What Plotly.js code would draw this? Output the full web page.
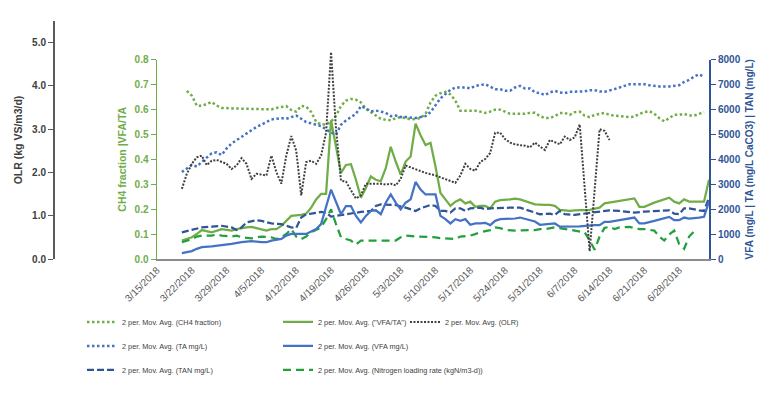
<!DOCTYPE html>
<html>
<head>
<meta charset="utf-8">
<script src="https://cdn.plot.ly/plotly-3.0.1.min.js"></script>
<style>html,body{margin:0;padding:0;background:#fff;}#chart{width:768px;height:396px;}</style>
</head>
<body>
<div id="chart"></div>
<script>
// ---- data ----
const ch4Dates = ['2018-03-21','2018-03-22','2018-03-23','2018-03-24','2018-03-25','2018-03-26','2018-03-27','2018-03-28','2018-03-30','2018-04-02','2018-04-05','2018-04-07','2018-04-08','2018-04-09','2018-04-10','2018-04-11','2018-04-12','2018-04-13','2018-04-14','2018-04-15','2018-04-16','2018-04-17','2018-04-18','2018-04-19','2018-04-20','2018-04-21','2018-04-22','2018-04-23','2018-04-24','2018-04-25','2018-04-26','2018-04-27','2018-04-28','2018-04-29','2018-04-30','2018-05-01','2018-05-02','2018-05-03','2018-05-04','2018-05-05','2018-05-06','2018-05-07','2018-05-08','2018-05-09','2018-05-10','2018-05-11','2018-05-12','2018-05-13','2018-05-14','2018-05-15','2018-05-17','2018-05-18','2018-05-19','2018-05-20','2018-05-21','2018-05-22','2018-05-23','2018-05-24','2018-05-25','2018-05-26','2018-05-28','2018-05-29','2018-05-30','2018-05-31','2018-06-01','2018-06-02','2018-06-03','2018-06-04','2018-06-05','2018-06-06','2018-06-07','2018-06-08','2018-06-09','2018-06-10','2018-06-11','2018-06-13','2018-06-14','2018-06-15','2018-06-17','2018-06-18','2018-06-19','2018-06-20','2018-06-21','2018-06-22','2018-06-23','2018-06-24','2018-06-25','2018-06-26','2018-06-27','2018-06-28','2018-06-29','2018-06-30','2018-07-01','2018-07-02','2018-07-03'];
const ch4Vals = [0.674,0.655,0.615,0.614,0.622,0.630,0.615,0.606,0.604,0.602,0.600,0.600,0.606,0.611,0.613,0.598,0.591,0.614,0.611,0.590,0.550,0.539,0.539,0.550,0.575,0.614,0.635,0.642,0.639,0.628,0.602,0.589,0.575,0.562,0.558,0.556,0.565,0.569,0.565,0.560,0.562,0.565,0.582,0.628,0.655,0.665,0.670,0.660,0.635,0.595,0.595,0.595,0.591,0.586,0.591,0.599,0.599,0.591,0.582,0.582,0.582,0.586,0.586,0.573,0.565,0.565,0.573,0.585,0.586,0.578,0.589,0.591,0.575,0.569,0.578,0.586,0.578,0.575,0.571,0.569,0.571,0.582,0.589,0.593,0.582,0.565,0.552,0.565,0.578,0.578,0.582,0.575,0.575,0.582,0.589];

const vfaTaDates = ['2018-03-20','2018-03-22','2018-03-23','2018-03-24','2018-03-26','2018-03-27','2018-03-28','2018-03-30','2018-03-31','2018-04-02','2018-04-03','2018-04-04','2018-04-06','2018-04-07','2018-04-08','2018-04-09','2018-04-10','2018-04-11','2018-04-13','2018-04-14','2018-04-15','2018-04-16','2018-04-17','2018-04-18','2018-04-19','2018-04-21','2018-04-22','2018-04-23','2018-04-24','2018-04-25','2018-04-26','2018-04-27','2018-04-28','2018-04-29','2018-04-30','2018-05-01','2018-05-02','2018-05-03','2018-05-04','2018-05-05','2018-05-06','2018-05-07','2018-05-08','2018-05-09','2018-05-10','2018-05-11','2018-05-12','2018-05-13','2018-05-14','2018-05-15','2018-05-16','2018-05-17','2018-05-18','2018-05-19','2018-05-20','2018-05-21','2018-05-22','2018-05-23','2018-05-25','2018-05-26','2018-05-27','2018-05-29','2018-05-30','2018-06-01','2018-06-02','2018-06-03','2018-06-04','2018-06-06','2018-06-07','2018-06-10','2018-06-12','2018-06-13','2018-06-14','2018-06-16','2018-06-19','2018-06-20','2018-06-21','2018-06-23','2018-06-26','2018-06-27','2018-06-28','2018-06-29','2018-06-30','2018-07-03','2018-07-04'];
const vfaTaVals = [0.074,0.087,0.100,0.116,0.107,0.114,0.120,0.114,0.120,0.127,0.129,0.124,0.114,0.120,0.120,0.133,0.153,0.173,0.177,0.182,0.206,0.239,0.261,0.261,0.556,0.345,0.377,0.380,0.318,0.246,0.285,0.331,0.318,0.312,0.364,0.450,0.391,0.338,0.391,0.411,0.543,0.496,0.457,0.466,0.371,0.265,0.239,0.213,0.230,0.239,0.223,0.230,0.209,0.213,0.213,0.203,0.230,0.236,0.239,0.242,0.239,0.226,0.219,0.217,0.217,0.213,0.197,0.193,0.195,0.197,0.206,0.223,0.226,0.235,0.243,0.209,0.209,0.226,0.246,0.230,0.223,0.239,0.230,0.230,0.318];

const olrDates = ['2018-03-20','2018-03-21','2018-03-22','2018-03-23','2018-03-24','2018-03-25','2018-03-26','2018-03-27','2018-03-29','2018-03-30','2018-03-31','2018-04-01','2018-04-02','2018-04-03','2018-04-04','2018-04-06','2018-04-07','2018-04-08','2018-04-09','2018-04-10','2018-04-11','2018-04-12','2018-04-13','2018-04-14','2018-04-15','2018-04-16','2018-04-17','2018-04-18','2018-04-19','2018-04-20','2018-04-21','2018-04-22','2018-04-23','2018-04-24','2018-04-25','2018-04-26','2018-04-27','2018-04-28','2018-04-29','2018-04-30','2018-05-01','2018-05-02','2018-05-03','2018-05-04','2018-05-06','2018-05-07','2018-05-08','2018-05-10','2018-05-11','2018-05-13','2018-05-14','2018-05-15','2018-05-16','2018-05-17','2018-05-18','2018-05-19','2018-05-20','2018-05-21','2018-05-22','2018-05-23','2018-05-24','2018-05-25','2018-05-26','2018-05-27','2018-05-28','2018-05-29','2018-05-30','2018-05-31','2018-06-01','2018-06-02','2018-06-03','2018-06-04','2018-06-05','2018-06-06','2018-06-07','2018-06-08','2018-06-10','2018-06-12','2018-06-13','2018-06-14'];
const olrVals = [1.62,1.97,2.20,2.35,2.39,2.17,2.27,2.29,2.20,2.08,2.16,2.33,2.20,1.85,1.97,1.93,2.39,2.01,1.74,2.39,2.84,2.50,1.47,2.24,2.27,2.20,2.39,2.92,4.78,3.00,1.81,1.79,1.59,1.40,1.47,1.74,1.74,1.74,1.74,1.72,1.74,1.70,1.85,2.16,2.08,2.04,1.99,1.93,1.89,1.81,1.76,1.93,2.20,2.08,2.04,2.24,2.31,2.45,2.92,2.92,2.77,2.69,2.65,2.63,2.62,2.58,2.69,2.60,2.52,2.75,2.70,2.65,2.83,2.75,2.81,3.11,0.18,3.00,2.96,2.75];

const taDates = ['2018-03-20','2018-03-21','2018-03-22','2018-03-23','2018-03-24','2018-03-25','2018-03-26','2018-03-27','2018-03-28','2018-03-29','2018-03-30','2018-03-31','2018-04-01','2018-04-02','2018-04-03','2018-04-04','2018-04-05','2018-04-06','2018-04-07','2018-04-09','2018-04-10','2018-04-11','2018-04-12','2018-04-13','2018-04-14','2018-04-15','2018-04-16','2018-04-17','2018-04-18','2018-04-19','2018-04-20','2018-04-21','2018-04-22','2018-04-23','2018-04-24','2018-04-25','2018-04-26','2018-04-27','2018-04-28','2018-04-29','2018-04-30','2018-05-01','2018-05-02','2018-05-03','2018-05-04','2018-05-06','2018-05-07','2018-05-08','2018-05-09','2018-05-10','2018-05-11','2018-05-12','2018-05-13','2018-05-14','2018-05-15','2018-05-16','2018-05-17','2018-05-18','2018-05-20','2018-05-21','2018-05-22','2018-05-23','2018-05-24','2018-05-25','2018-05-26','2018-05-27','2018-05-28','2018-05-29','2018-05-30','2018-05-31','2018-06-01','2018-06-02','2018-06-03','2018-06-04','2018-06-05','2018-06-06','2018-06-08','2018-06-09','2018-06-10','2018-06-11','2018-06-12','2018-06-13','2018-06-15','2018-06-16','2018-06-17','2018-06-18','2018-06-19','2018-06-20','2018-06-21','2018-06-22','2018-06-23','2018-06-24','2018-06-26','2018-06-27','2018-06-28','2018-06-29','2018-06-30','2018-07-01','2018-07-02','2018-07-03'];
const taVals = [3485,3643,3774,3710,3908,4067,4237,4277,4170,4435,4633,4764,4897,5029,5160,5294,5386,5492,5596,5651,5623,5690,5754,5623,5492,5440,5400,5330,5200,5070,5000,5386,5557,5690,5821,6126,6047,5913,5952,5913,5861,5730,5754,5690,5690,5651,5690,5730,5888,6150,6443,6613,6783,6879,6879,6879,6839,6942,7009,6918,6811,6811,6744,6744,6879,6942,6839,6839,6681,6653,6574,6681,6744,6681,6653,6705,6720,6720,6772,6772,6720,6705,6811,6879,6970,7009,7009,7009,7009,6970,6942,6918,6918,6942,6970,7100,7180,7314,7405,7314];

const vfaDates = ['2018-03-20','2018-03-22','2018-03-23','2018-03-24','2018-03-26','2018-03-28','2018-03-30','2018-04-01','2018-04-03','2018-04-05','2018-04-06','2018-04-07','2018-04-09','2018-04-10','2018-04-11','2018-04-13','2018-04-14','2018-04-16','2018-04-17','2018-04-19','2018-04-21','2018-04-22','2018-04-23','2018-04-24','2018-04-25','2018-04-26','2018-04-27','2018-04-28','2018-04-29','2018-04-30','2018-05-01','2018-05-02','2018-05-03','2018-05-04','2018-05-05','2018-05-06','2018-05-07','2018-05-08','2018-05-09','2018-05-10','2018-05-11','2018-05-12','2018-05-13','2018-05-14','2018-05-15','2018-05-16','2018-05-17','2018-05-18','2018-05-19','2018-05-20','2018-05-21','2018-05-22','2018-05-23','2018-05-25','2018-05-26','2018-05-27','2018-05-29','2018-05-30','2018-05-31','2018-06-02','2018-06-03','2018-06-04','2018-06-05','2018-06-08','2018-06-11','2018-06-12','2018-06-13','2018-06-14','2018-06-16','2018-06-18','2018-06-19','2018-06-20','2018-06-21','2018-06-23','2018-06-26','2018-06-27','2018-06-28','2018-06-29','2018-06-30','2018-07-02','2018-07-03','2018-07-04'];
const vfaVals = [238,317,408,475,502,541,607,673,713,673,673,739,805,937,1003,1003,1003,1201,1399,2785,1795,2125,2125,1729,1465,1729,1927,1954,1795,2258,2587,2258,1993,2258,2390,3089,2785,2587,2587,2587,1729,1597,1426,1597,1531,1597,1373,1426,1426,1452,1360,1531,1597,1597,1624,1663,1558,1505,1373,1399,1426,1294,1294,1307,1360,1360,1492,1492,1558,1624,1663,1426,1426,1531,1690,1558,1558,1663,1624,1663,1690,2297];

const tanDates = ['2018-03-20','2018-03-22','2018-03-23','2018-03-24','2018-03-26','2018-03-27','2018-03-28','2018-03-30','2018-03-31','2018-04-01','2018-04-02','2018-04-04','2018-04-05','2018-04-07','2018-04-08','2018-04-09','2018-04-11','2018-04-12','2018-04-13','2018-04-14','2018-04-15','2018-04-17','2018-04-18','2018-04-19','2018-04-20','2018-04-22','2018-04-23','2018-04-24','2018-04-25','2018-04-27','2018-04-28','2018-04-29','2018-05-01','2018-05-02','2018-05-04','2018-05-06','2018-05-07','2018-05-09','2018-05-10','2018-05-11','2018-05-12','2018-05-13','2018-05-14','2018-05-15','2018-05-16','2018-05-17','2018-05-19','2018-05-20','2018-05-21','2018-05-23','2018-05-25','2018-05-27','2018-05-29','2018-05-30','2018-05-31','2018-06-02','2018-06-03','2018-06-04','2018-06-05','2018-06-07','2018-06-09','2018-06-10','2018-06-12','2018-06-13','2018-06-14','2018-06-16','2018-06-19','2018-06-21','2018-06-23','2018-06-26','2018-06-27','2018-06-28','2018-06-29','2018-06-30','2018-07-02','2018-07-03','2018-07-04'];
const tanVals = [1069,1161,1228,1267,1294,1320,1333,1267,1161,1267,1465,1558,1531,1426,1426,1399,1267,1250,1663,1795,1822,1888,1862,1700,1729,1795,1822,1862,1888,1927,2125,2191,2165,2165,2059,1927,2033,2165,2125,1927,1927,1862,2033,2033,1927,2033,2059,1993,2033,2059,2059,2059,1927,1862,1795,1822,1769,1927,1800,1769,1822,1862,1901,1954,1954,1927,1862,1901,1927,1954,1822,1795,2033,2033,1954,1927,2455];

const nlrDates = ['2018-03-20','2018-03-22','2018-03-23','2018-03-24','2018-03-26','2018-03-27','2018-03-28','2018-03-30','2018-03-31','2018-04-01','2018-04-03','2018-04-04','2018-04-05','2018-04-07','2018-04-08','2018-04-09','2018-04-10','2018-04-11','2018-04-12','2018-04-13','2018-04-14','2018-04-15','2018-04-17','2018-04-18','2018-04-19','2018-04-20','2018-04-21','2018-04-22','2018-04-23','2018-04-24','2018-04-25','2018-04-27','2018-04-29','2018-05-02','2018-05-03','2018-05-04','2018-05-06','2018-05-08','2018-05-10','2018-05-11','2018-05-13','2018-05-14','2018-05-15','2018-05-17','2018-05-18','2018-05-19','2018-05-21','2018-05-22','2018-05-23','2018-05-24','2018-05-26','2018-05-28','2018-05-30','2018-05-31','2018-06-01','2018-06-03','2018-06-04','2018-06-05','2018-06-07','2018-06-09','2018-06-10','2018-06-11','2018-06-12','2018-06-13','2018-06-14','2018-06-15','2018-06-16','2018-06-18','2018-06-20','2018-06-21','2018-06-23','2018-06-24','2018-06-25','2018-06-26','2018-06-27','2018-06-28','2018-06-29','2018-06-30','2018-07-01'];
const nlrVals = [0.067,0.080,0.090,0.094,0.094,0.098,0.094,0.090,0.094,0.087,0.083,0.087,0.090,0.087,0.080,0.087,0.100,0.120,0.090,0.080,0.090,0.107,0.127,0.160,0.199,0.140,0.087,0.080,0.074,0.058,0.074,0.074,0.074,0.074,0.087,0.094,0.090,0.090,0.087,0.084,0.080,0.080,0.090,0.094,0.100,0.107,0.116,0.127,0.124,0.117,0.114,0.114,0.116,0.120,0.120,0.127,0.124,0.120,0.116,0.107,0.075,0.037,0.090,0.125,0.129,0.120,0.127,0.129,0.120,0.120,0.114,0.090,0.074,0.098,0.114,0.060,0.041,0.090,0.111];

const xTickStart = '2018-03-15';
const xRange = ['2018-03-15', '2018-07-04'];
const olrTicks = [0, 1, 2, 3, 4, 5];

const seriesNames = {
  ch4: '2 per. Mov. Avg. (CH4 fraction)',
  vfaTa: '2 per. Mov. Avg. ("VFA/TA")',
  olr: '2 per. Mov. Avg. (OLR)',
  ta: '2 per. Mov. Avg. (TA mg/L)',
  vfa: '2 per. Mov. Avg. (VFA mg/L)',
  tan: '2 per. Mov. Avg. (TAN mg/L)',
  nlr: '2 per. Mov. Avg. (Nitrogen loading rate (kgN/m3-d))'
};

// ---- styling ----
const GREEN = '#70AD47', DKGREEN = '#23A03C', BLUE = '#4472C4', DKBLUE = '#2F5597', GREY = '#404040';
const FONT = 'Liberation Sans, Arial, sans-serif';
const LFONT = 'Liberation Sans, Arial, sans-serif';

function tr(x, y, name, color, dash, width, yaxis, legend, grp) {
  return {x: x, y: y, name: name, type: 'scatter', mode: 'lines', yaxis: yaxis, xaxis: 'x',
    line: {color: color, dash: dash, width: width}, legend: legend, legendgroup: grp, hoverinfo: 'skip'};
}

const traces = [
  tr(ch4Dates, ch4Vals, seriesNames.ch4, GREEN, '2.5px,2.5px', 2.5, 'y', 'legend', 'a'),
  tr(taDates, taVals, seriesNames.ta, BLUE, '2.5px,2.5px', 2.5, 'y2', 'legend', 'b'),
  tr(tanDates, tanVals, seriesNames.tan, DKBLUE, '7px,3px', 2.25, 'y2', 'legend', 'c'),
  tr(vfaTaDates, vfaTaVals, seriesNames.vfaTa, GREEN, 'solid', 2.25, 'y', 'legend2', 'd'),
  tr(vfaDates, vfaVals, seriesNames.vfa, BLUE, 'solid', 2.25, 'y2', 'legend2', 'e'),
  tr(nlrDates, nlrVals, seriesNames.nlr, DKGREEN, '8px,5px', 2.25, 'y', 'legend2', 'f'),
  tr(olrDates, olrVals, seriesNames.olr, GREY, '2px,1.5px', 2, 'y3', 'legend3', 'g')
];

const W = 768, H = 396, ML = 45, MR = 59, MT = 21, MB = 134;
const plotW = W - ML - MR, plotH = H - MT - MB;
const xLeft = 157, greenTop = 60, axisBottom = 262;

const legendBase = {xanchor: 'left', yanchor: 'top', orientation: 'v', bgcolor: 'rgba(0,0,0,0)',
  font: {family: LFONT, size: 7.3, color: GREY}, tracegroupgap: 5, itemwidth: 30, traceorder: 'grouped'};

const layout = {
  width: W, height: H,
  margin: {l: ML, r: MR, t: MT, b: MB, pad: 0},
  paper_bgcolor: '#ffffff', plot_bgcolor: 'rgba(0,0,0,0)',
  showlegend: true,
  xaxis: {type: 'date', domain: [(xLeft - ML) / plotW, 1], range: xRange, tick0: xTickStart, dtick: 7 * 86400000,
    tickformat: '%-m/%-d/%Y', tickangle: -45, showline: true, linecolor: '#8C8C8C', linewidth: 1.5,
    showgrid: false, zeroline: false, ticks: '', anchor: 'y', automargin: false,
    tickfont: {family: FONT, size: 10, color: '#595959'}},
  yaxis: {domain: [0, (axisBottom - greenTop) / plotH], range: [0, 0.8], dtick: 0.1, tick0: 0, tickformat: '.1f',
    showline: true, linecolor: GREEN, linewidth: 1.5, ticks: 'outside', ticklen: 5, tickcolor: GREEN,
    showgrid: false, zeroline: false, automargin: false,
    tickfont: {family: FONT, size: 10, color: GREEN, weight: 'bold'},
    title: {text: 'CH4 fraction |VFA/TA', standoff: 6, font: {family: FONT, size: 10.5, color: GREEN, weight: 'bold'}}},
  yaxis2: {overlaying: 'y', side: 'right', anchor: 'x', range: [0, 8000], dtick: 1000, tick0: 0,
    showline: true, linecolor: DKBLUE, linewidth: 2, ticks: 'outside', ticklen: 5, tickcolor: DKBLUE,
    showgrid: false, zeroline: false, automargin: false,
    tickfont: {family: FONT, size: 10, color: DKBLUE, weight: 'bold'},
    title: {text: 'VFA (mg/L | TA (mg/L CaCO3) | TAN (mg/L)', standoff: 6, font: {family: FONT, size: 10, color: DKBLUE, weight: 'bold'}}},
  yaxis3: {domain: [0, 1], anchor: 'free', position: (53 - ML) / plotW, side: 'left', range: [0, 5.5],
    tickvals: olrTicks, tickformat: '.1f',
    showline: true, linecolor: '#595959', linewidth: 1.5, ticks: 'outside', ticklen: 5, tickcolor: '#595959',
    showgrid: false, zeroline: false, automargin: false,
    tickfont: {family: FONT, size: 10, color: GREY, weight: 'bold'},
    title: {text: 'OLR (kg VS/m3/d)', standoff: 6, font: {family: FONT, size: 10.5, color: GREY, weight: 'bold'}}},
  legend: Object.assign({}, legendBase, {x: (82 - ML) / plotW, y: 1 - (311 - MT) / plotH}),
  legend2: Object.assign({}, legendBase, {x: (278 - ML) / plotW, y: 1 - (311 - MT) / plotH}),
  legend3: Object.assign({}, legendBase, {x: (405 - ML) / plotW, y: 1 - (311 - MT) / plotH})
};

Plotly.newPlot('chart', traces, layout, {displayModeBar: false, staticPlot: true});
</script>
</body>
</html>
